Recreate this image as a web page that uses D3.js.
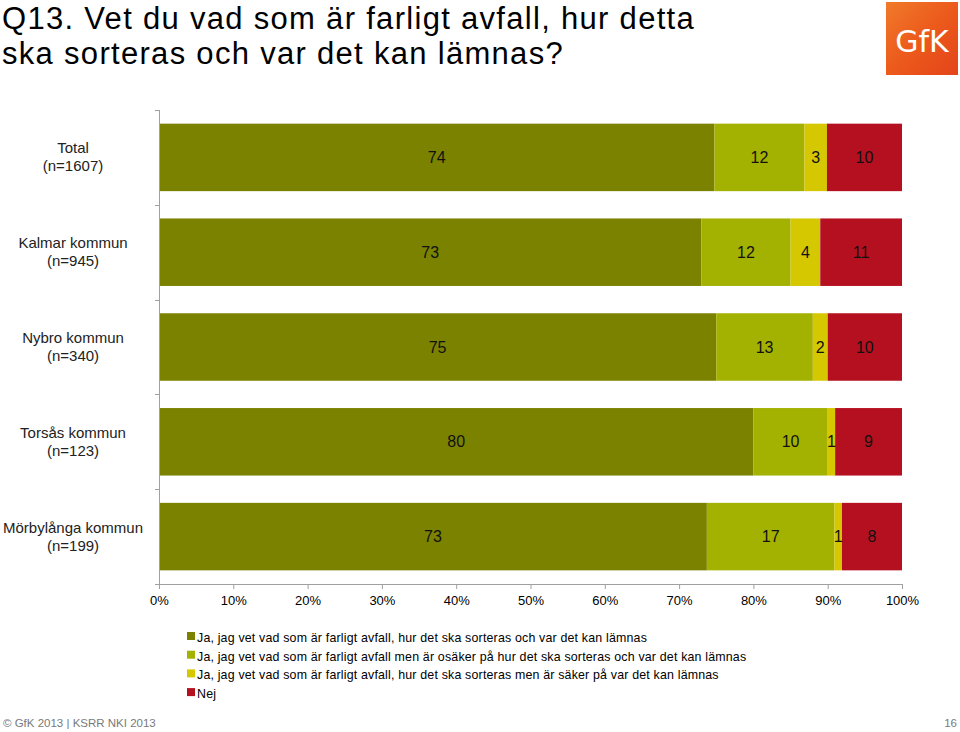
<!DOCTYPE html>
<html><head><meta charset="utf-8">
<script src="https://cdn.jsdelivr.net/npm/d3@7/dist/d3.min.js"></script>
<style>body{margin:0;background:#fff;} svg{display:block;font-family:"Liberation Sans",Arial,sans-serif;}</style>
</head><body>
<svg id="c" width="960" height="732"></svg>
<script>
const categories = ["Total|(n=1607)","Kalmar kommun|(n=945)","Nybro kommun|(n=340)","Torsås kommun|(n=123)","Mörbylånga kommun|(n=199)"];
const seriesNames = [
  "Ja, jag vet vad som är farligt avfall, hur det ska sorteras och var det kan lämnas",
  "Ja, jag vet vad som är farligt avfall men är osäker på hur det ska sorteras och var det kan lämnas",
  "Ja, jag vet vad som är farligt avfall, hur det ska sorteras men är säker på var det kan lämnas",
  "Nej"
];
const s1 = [74,73,75,80,73];
const s2 = [12,12,13,10,17];
const s3 = [3,4,2,1,1];
const s4 = [10,11,10,9,8];
const colors = ["#7b8200","#a3b100","#d6c800","#b5101f"];
const xTicks = [0,0.1,0.2,0.3,0.4,0.5,0.6,0.7,0.8,0.9,1];

const svg = d3.select("#c");
const data = categories.map((c,i)=>({cat:c, s0:s1[i], s1:s2[i], s2:s3[i], s3:s4[i]}));
const keys = ["s0","s1","s2","s3"];
const stacked = d3.stack().keys(keys).offset(d3.stackOffsetExpand)(data);

const x = d3.scaleLinear().domain([0,1]).range([159,902]);
const y = d3.scaleBand().domain(categories).range([110,584]).paddingInner(0.288).paddingOuter(0.144);

// title
const title = svg.append("text").attr("font-size",31).attr("fill","#000").attr("letter-spacing",1.3);
title.append("tspan").attr("x",2).attr("y",28.5).text("Q13. Vet du vad som är farligt avfall, hur detta");
title.append("tspan").attr("x",2).attr("y",64).text("ska sorteras och var det kan lämnas?");

// logo
const defs = svg.append("defs");
const g = defs.append("linearGradient").attr("id","lg").attr("x1","0").attr("y1","0").attr("x2","1").attr("y2","1");
g.append("stop").attr("offset","0").attr("stop-color","#f07a2a");
g.append("stop").attr("offset","0.5").attr("stop-color","#ec5a1c");
g.append("stop").attr("offset","1").attr("stop-color","#e4441a");
svg.append("rect").attr("x",886).attr("y",2).attr("width",72).attr("height",73).attr("fill","url(#lg)");
svg.append("text").attr("x",922).attr("y",52).attr("text-anchor","middle").attr("font-size",30).attr("fill","#fff").attr("font-family","'DejaVu Sans',sans-serif").text("GfK");

// bars
const layers = svg.append("g").selectAll("g").data(stacked).join("g").attr("fill",(d,i)=>colors[i]);
layers.selectAll("rect").data(d=>d).join("rect")
  .attr("x",d=>x(d[0])).attr("width",d=>x(d[1])-x(d[0]))
  .attr("y",d=>y(d.data.cat)).attr("height",y.bandwidth());
// labels
stacked.forEach((layer,li)=>{
  svg.append("g").selectAll("text").data(layer).join("text")
    .attr("x",d=>(x(d[0])+x(d[1]))/2)
    .attr("y",d=>y(d.data.cat)+y.bandwidth()/2)
    .attr("dy","0.35em").attr("text-anchor","middle").attr("font-size",16).attr("fill","#111")
    .text(d=>d.data[layer.key]);
});

// y axis
const yAxis = svg.append("g").attr("stroke","#a0a0a0");
yAxis.append("line").attr("x1",159.5).attr("x2",159.5).attr("y1",110).attr("y2",584);
const bounds = [0,1,2,3,4,5].map(i=>110+i*y.step());
yAxis.selectAll(".t").data(bounds).join("line").attr("x1",155).attr("x2",159).attr("y1",d=>Math.round(d)+0.5).attr("y2",d=>Math.round(d)+0.5);
// y labels
const yl = svg.append("g").selectAll("text").data(categories).join("text")
  .attr("text-anchor","middle").attr("font-size",15).attr("fill","#222");
yl.append("tspan").attr("x",73).attr("y",d=>y(d)+y.bandwidth()/2-9+5).text(d=>d.split("|")[0]);
yl.append("tspan").attr("x",73).attr("y",d=>y(d)+y.bandwidth()/2+9+5).text(d=>d.split("|")[1]);

// x axis
const xa = svg.append("g").attr("transform","translate(0,584)")
  .call(d3.axisBottom(x).tickValues(xTicks).tickFormat(d3.format(".0%")).tickSize(5).tickSizeOuter(0));
xa.select(".domain").attr("stroke","#a0a0a0");
xa.selectAll(".tick line").attr("stroke","#a0a0a0");
xa.selectAll(".tick text").attr("font-size",13).attr("fill","#000").attr("font-family","'Liberation Sans',Arial,sans-serif").attr("y",12);

// legend
const leg = svg.append("g").selectAll("g").data(seriesNames).join("g")
  .attr("transform",(d,i)=>`translate(187,${632+i*18.7})`);
leg.append("rect").attr("width",8).attr("height",8).attr("fill",(d,i)=>colors[i]);
leg.append("text").attr("x",10).attr("y",10).attr("font-size",12.4).attr("letter-spacing",0.18).attr("fill","#000").text(d=>d);

// footer
svg.append("text").attr("x",3).attr("y",727).attr("font-size",11.5).attr("fill","#7a7a7a").text("© GfK 2013 | KSRR NKI 2013");
svg.append("text").attr("x",957).attr("y",727).attr("text-anchor","end").attr("font-size",11.5).attr("fill","#7a7a7a").text("16");
</script>
</body></html>
